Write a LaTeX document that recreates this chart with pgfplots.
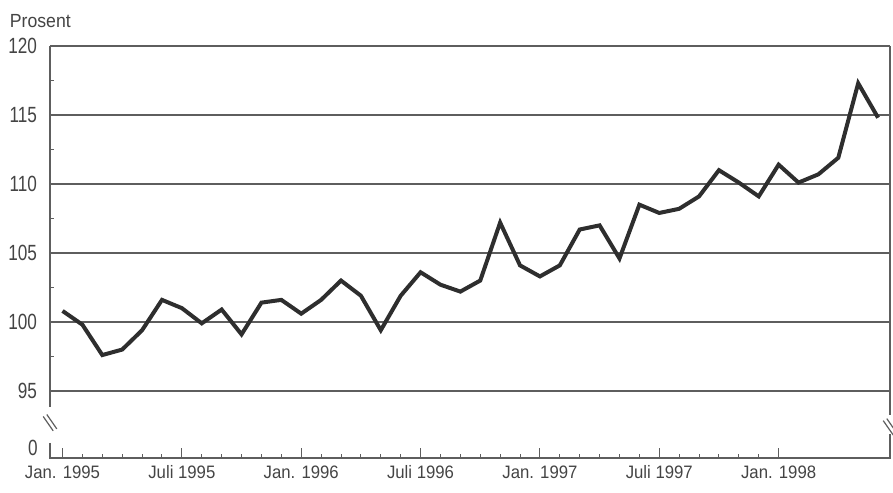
\documentclass[border=0pt]{standalone}
\usepackage{fontspec}
\setmainfont[FakeStretch=0.93]{Liberation Sans}
\newfontfamily\condfont[FakeStretch=0.78]{Liberation Sans}
\usepackage{pgfplots}
\pgfplotsset{compat=1.18}

\definecolor{ink}{HTML}{2E2E2E}
\definecolor{txt}{HTML}{444444}
\definecolor{gridc}{HTML}{5E5E5E}

% index: months from Jan. 1995
\pgfplotstableread{
m   v
0   100.8
1   99.8
2   97.6
3   98.0
4   99.4
5   101.6
6   101.0
7   99.9
8   100.9
9   99.1
10  101.4
11  101.6
12  100.6
13  101.6
14  103.0
15  101.9
16  99.4
17  101.9
18  103.6
19  102.7
20  102.2
21  103.0
22  107.2
23  104.1
24  103.3
25  104.1
26  106.7
27  107.0
28  104.6
29  108.5
30  107.9
31  108.2
32  109.1
33  111.0
34  110.1
35  109.1
36  111.4
37  110.1
38  110.7
39  111.9
40  117.3
41  114.8
}\prosent

\begin{document}
\begin{tikzpicture}
\begin{axis}[
  name=ax,
  scale only axis, width=420pt, height=206pt,
  xmin=-0.63, xmax=41.6, ymin=90.14, ymax=120,
  axis x line*=bottom, axis y line*=left,
  axis line style={draw=none},
  clip=false,
  xtick={0,6,...,36},
  xticklabels={Jan. 1995,Juli 1995,Jan. 1996,Juli 1996,Jan. 1997,Juli 1997,Jan. 1998},
  minor x tick num=5,
  ytick={95,100,...,120},
  minor ytick={97.5,102.5,...,117.5},
  tick align=inside,
  major tick length=5pt, minor tick length=2pt,
  tick style={gridc, line width=0.5pt},
  ymajorgrids=true,
  major grid style={gridc, line width=0.6pt},
  xticklabel style={font=\fontsize{9}{10}\selectfont, text=txt, anchor=base, yshift=-10pt},
  yticklabel style={font=\condfont\fontsize{11}{12}\selectfont, text=txt, xshift=-3pt},
  /pgf/number format/assume math mode=true,
]
\addplot[ink, line width=2pt, line join=miter] table[x=m, y=v] {\prosent};

% axis lines with breaks
\draw[gridc, line width=0.6pt] (rel axis cs:0,1) -- (axis cs:-0.63,93.84);
\draw[gridc, line width=0.6pt] (axis cs:-0.63,91.23) -- (rel axis cs:0,0) -- (rel axis cs:1,0)
  -- (axis cs:41.6,91.88);
\draw[gridc, line width=0.6pt] (rel axis cs:1,1) -- (axis cs:41.6,93.26);
% break marks
\draw[gridc, line width=0.6pt] ([shift={(-3.4pt,3.1pt)}]axis cs:-0.63,92.7) -- ([shift={(1.6pt,-4.1pt)}]axis cs:-0.63,92.7);
\draw[gridc, line width=0.6pt] ([shift={(-1.6pt,4.1pt)}]axis cs:-0.63,92.7) -- ([shift={(3.4pt,-3.1pt)}]axis cs:-0.63,92.7);
\draw[gridc, line width=0.6pt] ([shift={(-3.4pt,3.1pt)}]axis cs:41.6,92.4) -- ([shift={(1.6pt,-4.1pt)}]axis cs:41.6,92.4);
\draw[gridc, line width=0.6pt] ([shift={(-1.6pt,4.1pt)}]axis cs:41.6,92.4) -- ([shift={(3.4pt,-3.1pt)}]axis cs:41.6,92.4);

\node[anchor=east, text=txt, font=\condfont\fontsize{11}{12}\selectfont, inner sep=0pt]
  at ([shift={(-6pt,5pt)}]rel axis cs:0,0) {0};
\node[anchor=base west, text=txt, font=\fontsize{9.5}{10}\selectfont, inner sep=0pt]
  at ([shift={(-20.25pt,9pt)}]rel axis cs:0,1) {Prosent};
\end{axis}
\pgfresetboundingbox
\path ([shift={(-25pt,-17pt)}]ax.south west) rectangle ([shift={(1.5pt,23pt)}]ax.north east);
\end{tikzpicture}
\end{document}
